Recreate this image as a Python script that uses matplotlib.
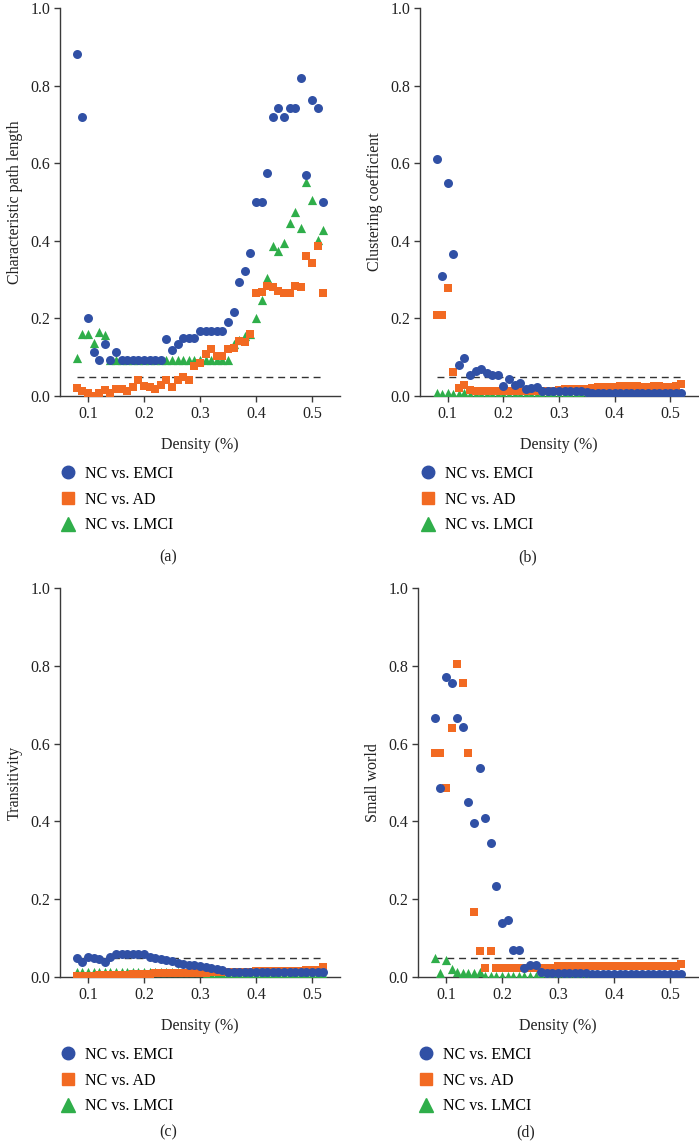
import matplotlib
matplotlib.use("Agg")
import matplotlib.pyplot as plt
from matplotlib.lines import Line2D

plt.rcParams['font.family'] = ['Liberation Serif', 'DejaVu Serif']
plt.rcParams['font.size'] = 11.5

density = [0.08, 0.09, 0.10, 0.11, 0.12, 0.13, 0.14, 0.15, 0.16, 0.17,
           0.18, 0.19, 0.20, 0.21, 0.22, 0.23, 0.24, 0.25, 0.26, 0.27,
           0.28, 0.29, 0.30, 0.31, 0.32, 0.33, 0.34, 0.35, 0.36, 0.37,
           0.38, 0.39, 0.40, 0.41, 0.42, 0.43, 0.44, 0.45, 0.46, 0.47,
           0.48, 0.49, 0.50, 0.51, 0.52]

labels = ["NC vs. EMCI", "NC vs. AD", "NC vs. LMCI"]

# (a) characteristic path length
cpl_emci = [0.881, 0.720, 0.200, 0.113, 0.093, 0.134, 0.093, 0.113, 0.093, 0.093,
            0.093, 0.093, 0.093, 0.093, 0.093, 0.093, 0.147, 0.119, 0.134, 0.150,
            0.150, 0.150, 0.168, 0.168, 0.168, 0.168, 0.168, 0.192, 0.216, 0.293,
            0.322, 0.369, 0.500, 0.500, 0.574, 0.720, 0.743, 0.720, 0.743, 0.743,
            0.820, 0.570, 0.763, 0.743, 0.500]
cpl_ad = [0.020, 0.014, 0.007, 0.000, 0.007, 0.015, 0.009, 0.017, 0.017, 0.014,
          0.024, 0.040, 0.026, 0.024, 0.017, 0.028, 0.040, 0.024, 0.040, 0.050,
          0.040, 0.077, 0.086, 0.108, 0.121, 0.103, 0.103, 0.121, 0.123, 0.143,
          0.140, 0.160, 0.265, 0.269, 0.283, 0.280, 0.271, 0.266, 0.266, 0.283,
          0.282, 0.361, 0.344, 0.387, 0.266]
cpl_lmci = [0.097, 0.161, 0.161, 0.136, 0.166, 0.157, 0.093, 0.093, 0.093, 0.093,
            0.093, 0.093, 0.093, 0.093, 0.093, 0.093, 0.093, 0.093, 0.093, 0.093,
            0.093, 0.093, 0.093, 0.093, 0.093, 0.093, 0.093, 0.093, 0.135, 0.145,
            0.155, 0.160, 0.200, 0.247, 0.303, 0.387, 0.375, 0.395, 0.447, 0.475,
            0.434, 0.552, 0.505, 0.402, 0.428]

# (b) clustering coefficient
cc_emci = [0.612, 0.310, 0.548, 0.366, 0.080, 0.099, 0.054, 0.065, 0.069, 0.058,
           0.054, 0.054, 0.026, 0.045, 0.028, 0.033, 0.017, 0.020, 0.024, 0.014,
           0.014, 0.013, 0.014, 0.014, 0.013, 0.014, 0.013, 0.010, 0.009, 0.009,
           0.009, 0.009, 0.009, 0.009, 0.009, 0.009, 0.009, 0.009, 0.009, 0.009,
           0.009, 0.009, 0.009, 0.009, 0.009]
cc_ad = [0.210, 0.210, 0.278, 0.061, 0.020, 0.028, 0.015, 0.014, 0.014, 0.014,
         0.014, 0.014, 0.014, 0.014, 0.014, 0.014, 0.014, 0.014, 0.014, 0.014,
         0.014, 0.014, 0.016, 0.017, 0.017, 0.017, 0.018, 0.018, 0.020, 0.022,
         0.024, 0.024, 0.024, 0.025, 0.025, 0.025, 0.025, 0.024, 0.024, 0.025,
         0.025, 0.024, 0.024, 0.027, 0.030]
cc_lmci = [0.008, 0.004, 0.008, 0.004, 0.004, 0.008, 0.002, 0.002, 0.002, 0.002,
           0.002, 0.002, 0.002, 0.002, 0.002, 0.002, 0.002, 0.002, 0.002, 0.002,
           0.002, 0.002, 0.002, 0.002, 0.002, 0.002, 0.002, 0.002, 0.002, 0.002,
           0.002, 0.002, 0.002, 0.002, 0.002, 0.002, 0.002, 0.002, 0.002, 0.002,
           0.002, 0.002, 0.002, 0.002, 0.002]

# (c) transitivity
tr_emci = [0.050, 0.039, 0.052, 0.050, 0.045, 0.039, 0.052, 0.058, 0.060, 0.060,
           0.058, 0.060, 0.058, 0.052, 0.048, 0.045, 0.043, 0.040, 0.035, 0.033,
           0.032, 0.030, 0.027, 0.025, 0.022, 0.020, 0.017, 0.014, 0.012, 0.012,
           0.012, 0.012, 0.012, 0.012, 0.012, 0.012, 0.012, 0.012, 0.012, 0.012,
           0.012, 0.012, 0.012, 0.012, 0.012]
tr_ad = [0.002, 0.002, 0.003, 0.003, 0.004, 0.004, 0.005, 0.005, 0.006, 0.006,
         0.007, 0.007, 0.008, 0.008, 0.009, 0.009, 0.010, 0.010, 0.010, 0.011,
         0.011, 0.011, 0.011, 0.011, 0.012, 0.012, 0.012, 0.012, 0.013, 0.013,
         0.014, 0.014, 0.015, 0.015, 0.015, 0.016, 0.016, 0.016, 0.016, 0.016,
         0.016, 0.017, 0.017, 0.017, 0.025]
tr_lmci = [0.014, 0.014, 0.014, 0.014, 0.014, 0.014, 0.014, 0.014, 0.014, 0.014,
           0.014, 0.014, 0.014, 0.014, 0.014, 0.014, 0.014, 0.014, 0.014, 0.014,
           0.014, 0.014, 0.014, 0.005, 0.005, 0.005, 0.005, 0.005, 0.005, 0.005,
           0.005, 0.005, 0.005, 0.005, 0.005, 0.005, 0.005, 0.005, 0.005, 0.005,
           0.005, 0.005, 0.005, 0.005, 0.005]

# (d) small world
sw_emci = [0.665, 0.485, 0.772, 0.757, 0.665, 0.642, 0.451, 0.397, 0.536, 0.409,
           0.345, 0.234, 0.138, 0.147, 0.069, 0.069, 0.024, 0.030, 0.030, 0.013,
           0.011, 0.011, 0.011, 0.011, 0.011, 0.011, 0.011, 0.011, 0.008, 0.008,
           0.008, 0.008, 0.008, 0.008, 0.008, 0.008, 0.008, 0.008, 0.008, 0.008,
           0.008, 0.008, 0.008, 0.008, 0.008]
sw_ad = [0.575, 0.575, 0.485, 0.640, 0.805, 0.755, 0.575, 0.166, 0.067, 0.024,
         0.067, 0.024, 0.024, 0.024, 0.024, 0.024, 0.024, 0.024, 0.024, 0.024,
         0.024, 0.024, 0.028, 0.028, 0.028, 0.028, 0.028, 0.028, 0.028, 0.028,
         0.028, 0.028, 0.028, 0.028, 0.028, 0.028, 0.028, 0.028, 0.028, 0.028,
         0.028, 0.028, 0.028, 0.028, 0.033]
sw_lmci = [0.050, 0.009, 0.044, 0.020, 0.013, 0.009, 0.009, 0.009, 0.013, 0.002,
           0.002, 0.002, 0.002, 0.002, 0.002, 0.002, 0.002, 0.002, 0.002, 0.002,
           0.002, 0.002, 0.002, 0.002, 0.002, 0.002, 0.002, 0.002, 0.002, 0.002,
           0.002, 0.002, 0.002, 0.002, 0.002, 0.002, 0.002, 0.002, 0.002, 0.002,
           0.002, 0.002, 0.002, 0.002, 0.002]

threshold = 0.05

blue = '#3050a5'
orange = '#f26a22'
green = '#2fae4a'
axis_color = '#3a3a3a'

W, H = 699, 1142
fig = plt.figure(figsize=(W / 100, H / 100), dpi=100)

panels = [
    # (left px, top px, width px, height px, ylabel, data, tag, tag y px)
    (60, 8, 280, 388, "Characteristic path length", (cpl_emci, cpl_ad, cpl_lmci), "(a)", 557),
    (420, 8, 278, 388, "Clustering coefficient", (cc_emci, cc_ad, cc_lmci), "(b)", 557),
    (60, 588, 280, 389, "Transitivity", (tr_emci, tr_ad, tr_lmci), "(c)", 1132),
    (418, 588, 280, 389, "Small world", (sw_emci, sw_ad, sw_lmci), "(d)", 1132),
]

for left, top, w, h, ylabel, (emci, ad, lmci), tag, tag_y in panels:
    ax = fig.add_axes([left / W, (H - top - h) / H, w / W, h / H])
    ax.scatter(density, lmci, marker='^', s=44, color=green, linewidths=0, zorder=3)
    ax.scatter(density, ad, marker='s', s=40, color=orange, linewidths=0, zorder=4)
    ax.scatter(density, emci, marker='o', s=42, color=blue, linewidths=0, zorder=5)
    ax.plot([density[0], density[-1]], [threshold, threshold], color='#333333',
            lw=1.0, linestyle=(0, (5, 3.5)), zorder=2)

    ax.set_xlim(0.05, 0.55)
    ax.set_ylim(0, 1.0)
    ax.set_xticks([0.1, 0.2, 0.3, 0.4, 0.5])
    ax.set_xticklabels(["0.1", "0.2", "0.3", "0.4", "0.5"])
    ax.set_yticks([0.0, 0.2, 0.4, 0.6, 0.8, 1.0])
    ax.set_yticklabels(["0.0", "0.2", "0.4", "0.6", "0.8", "1.0"])
    for side in ('top', 'right'):
        ax.spines[side].set_visible(False)
    for side in ('left', 'bottom'):
        ax.spines[side].set_color(axis_color)
        ax.spines[side].set_linewidth(1.0)
    ax.tick_params(direction='out', length=4, width=1.0, color=axis_color,
                   labelcolor='#222222', labelsize=11.5, pad=3)

    ax.set_xlabel("Density (%)", fontsize=11.5, color='#222222')
    ax.xaxis.set_label_coords(0.5, -41 / h)
    ax.set_ylabel(ylabel, fontsize=11.5, color='#222222')
    ax.yaxis.set_label_coords(-37 / w, 0.5)

    handles = [
        Line2D([], [], marker='o', ls='none', color=blue, markersize=9),
        Line2D([], [], marker='s', ls='none', color=orange, markersize=8.5),
        Line2D([], [], marker='^', ls='none', color=green, markersize=10),
    ]
    fig.legend(handles, labels, loc='upper left',
               bbox_to_anchor=((left - 2) / W, 1 - (top + h + 70) / H),
               frameon=False, fontsize=11.5, handlelength=1.2,
               handletextpad=0.5, labelspacing=0.6, borderpad=0,
               borderaxespad=0)

    fig.text((left + 108) / W, 1 - tag_y / H, tag,
             ha='center', va='center', fontsize=11.5, color='#222222')

fig.savefig("out.png", dpi=100)
